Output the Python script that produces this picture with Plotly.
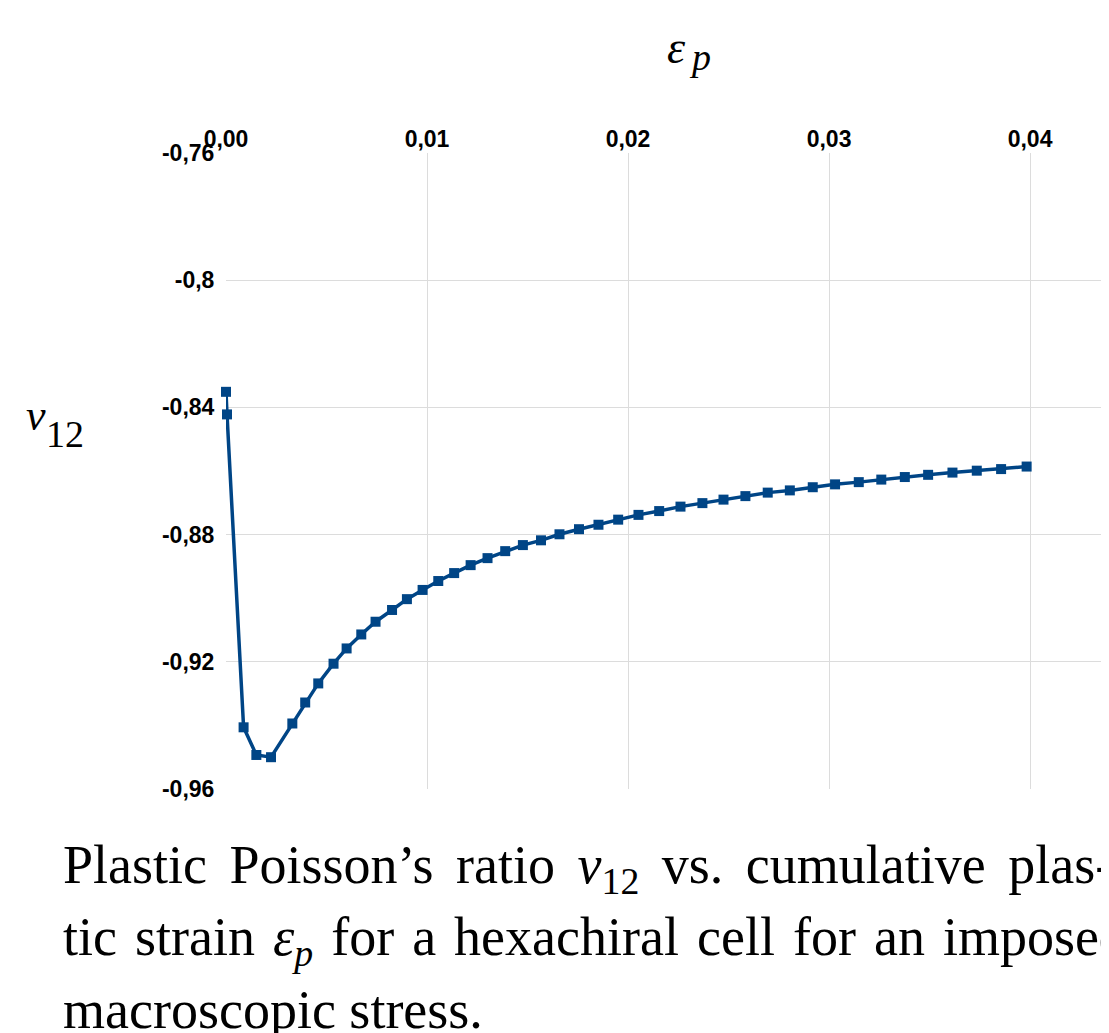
import plotly.graph_objects as go

# Data (cumulative plastic strain vs plastic Poisson's ratio)
strain = [0.0, 0.00005, 0.000875, 0.00151, 0.00224, 0.0033, 0.00394, 0.00459, 0.00535,
          0.0060, 0.00673, 0.00744, 0.00826, 0.0090, 0.00978, 0.01056, 0.01135, 0.01217,
          0.01301, 0.01389, 0.01477, 0.01567, 0.01659, 0.01756, 0.01853, 0.01951, 0.02052,
          0.02155, 0.02261, 0.0237, 0.02475, 0.02584, 0.02695, 0.02805, 0.02919, 0.0303,
          0.03148, 0.0326, 0.03377, 0.03493, 0.03614, 0.03735, 0.03856, 0.03983]
nu12 = [-0.8351, -0.8422, -0.9406, -0.9493, -0.9500, -0.9394, -0.9328, -0.9268, -0.9206,
        -0.9158, -0.9114, -0.9074, -0.9037, -0.9003, -0.8974, -0.8946, -0.8921, -0.8896,
        -0.8874, -0.8852, -0.8833, -0.8818, -0.8799, -0.8783, -0.8769, -0.8753, -0.8738,
        -0.8726, -0.8712, -0.8701, -0.8690, -0.8679, -0.8668, -0.8661, -0.8651, -0.8642,
        -0.8635, -0.8627, -0.8619, -0.8612, -0.8605, -0.8599, -0.8594, -0.8586]

x_tickvals = [0.0, 0.01, 0.02, 0.03, 0.04]
x_ticktext = ["0,00", "0,01", "0,02", "0,03", "0,04"]
y_tickvals = [-0.96, -0.92, -0.88, -0.84, -0.8, -0.76]
y_ticktext = ["-0,96", "-0,92", "-0,88", "-0,84", "-0,8", "-0,76"]

# caption words; extra narrow spaces imitate the justified text of the reference
caption_words = [
    ["Plastic", "Poisson\u2019s", "ratio", "<i>\u03bd</i><sub>12</sub>", "vs.", "cumulative", "plas-"],
    ["tic", "strain", "<i>\u03b5<sub>p</sub></i>", "for", "a", "hexachiral", "cell", "for", "an", "imposed"],
    ["macroscopic", "stress."],
]
gap_strings = ["\u2006 ", "\u200a ", " "]
caption_lines = [g.join(ws) for g, ws in zip(gap_strings, caption_words)]

# page has an 8px body margin, so the figure is offset by 8px
OFF = 8
PAGE_W, PAGE_H = 1109, 1033
W, H = PAGE_W - OFF, PAGE_H - OFF
PLOT_TOP, PLOT_BOT, PLOT_LEFT = 152.7 - OFF, 789.3 - OFF, 225.7 - OFF


def ppy(ref_py):
    py = ref_py - OFF
    return (PLOT_BOT - py) / (PLOT_BOT - PLOT_TOP)


def ppx(ref_px):
    px = ref_px - OFF
    return (px - PLOT_LEFT) / (W - PLOT_LEFT)


fig = go.Figure()
fig.add_trace(go.Scatter(
    x=strain, y=nu12, mode="lines+markers",
    line=dict(color="#004586", width=3.5),
    marker=dict(symbol="square", size=10, color="#004586", line=dict(width=0)),
    cliponaxis=False, showlegend=False,
))

tickfont = dict(family="Liberation Sans, Arial, sans-serif", size=23, color="#000000")

fig.update_layout(
    width=W, height=H,
    margin=dict(l=PLOT_LEFT, r=0, t=PLOT_TOP, b=H - PLOT_BOT, pad=0),
    paper_bgcolor="white", plot_bgcolor="white",
    xaxis=dict(
        side="top", range=[0, (PAGE_W - 225.7) / 20108.0],
        tickvals=x_tickvals, ticktext=["<b>%s</b>" % t for t in x_ticktext],
        tickfont=tickfont, showgrid=True, gridcolor="#dcdcdc", gridwidth=1,
        zeroline=False, showline=False, ticks="",
    ),
    yaxis=dict(
        range=[-0.96, -0.76],
        tickvals=y_tickvals, ticktext=["<b>%s</b>" % t for t in y_ticktext],
        tickfont=tickfont, showgrid=True, gridcolor="#dcdcdc", gridwidth=1,
        zeroline=False, showline=False,
        ticks="outside", ticklen=6, tickcolor="rgba(0,0,0,0)",
    ),
)

serif = "Liberation Serif, Times New Roman, serif"

# Axis titles (reference pixel coordinates)
fig.add_annotation(text="<i>\u03b5</i>", xref="paper", yref="paper",
                   x=ppx(676), y=ppy(47), xanchor="center", yanchor="middle",
                   showarrow=False, font=dict(family=serif, size=46, color="black"))
fig.add_annotation(text="<i>p</i>", xref="paper", yref="paper",
                   x=ppx(700), y=ppy(57), xanchor="center", yanchor="middle",
                   showarrow=False, font=dict(family=serif, size=38, color="black"))
fig.add_annotation(text="<i>\u03bd</i>", xref="paper", yref="paper",
                   x=ppx(36), y=ppy(415), xanchor="center", yanchor="middle",
                   showarrow=False, font=dict(family=serif, size=44, color="black"))
fig.add_annotation(text="12", xref="paper", yref="paper",
                   x=ppx(65), y=ppy(434), xanchor="center", yanchor="middle",
                   showarrow=False, font=dict(family=serif, size=38, color="black"))

# Caption
for line, py in zip(caption_lines, [869, 941, 1011]):
    fig.add_annotation(text=line, xref="paper", yref="paper",
                       x=ppx(61), y=ppy(py), xanchor="left", yanchor="middle",
                       showarrow=False, align="left",
                       font=dict(family=serif, size=54, color="black"))

fig.write_html("out.html")
